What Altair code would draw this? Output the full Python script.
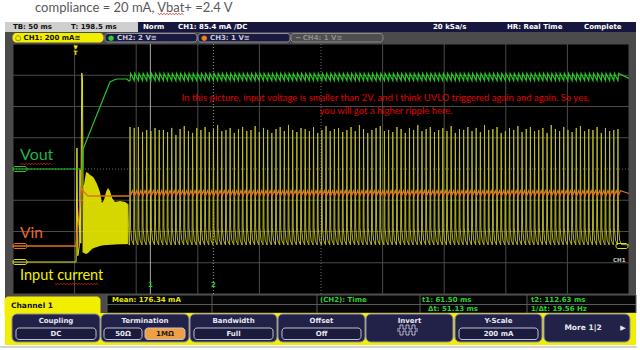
import altair as alt
import pandas as pd

# ---------------- page / screen geometry ----------------
W, H = 640, 350
GRID_X0, GRID_X1 = 13, 629
GRID_Y0, GRID_Y1 = 44, 294

# ---------------- oscilloscope settings ----------------
TIME_PER_DIV = 50.0      # ms / div
T_LEFT = -50.0           # ms at left edge (trigger at 0 ms)
N_HDIV, N_VDIV = 10, 8
CH_SCALE = {"CH1": 200.0, "CH2": 2.0, "CH3": 1.0}       # mA/div, V/div, V/div
CH_OFFSET = {"CH1": -2.976, "CH2": 0.0, "CH3": -2.464}  # div of channel ground
T_CURSOR1, T_CURSOR2 = 61.50, 112.63

T_RIGHT = T_LEFT + N_HDIV * TIME_PER_DIV
D_TOP, D_BOT = N_VDIV / 2, -N_VDIV / 2
px_ms = (GRID_X1 - GRID_X0) / (T_RIGHT - T_LEFT)
px_div = (GRID_Y1 - GRID_Y0) / (D_TOP - D_BOT)
T_DOM = [T_LEFT - GRID_X0 / px_ms, T_RIGHT + (W - GRID_X1) / px_ms]
D_DOM = [D_BOT - (H - GRID_Y1) / px_div, D_TOP + GRID_Y0 / px_div]

XS_T = alt.Scale(domain=T_DOM, nice=False, zero=False)
YS_T = alt.Scale(domain=D_DOM, nice=False, zero=False)
XS_P = alt.Scale(domain=[0, W], nice=False, zero=False)
YS_P = alt.Scale(domain=[0, H], reverse=True, nice=False, zero=False)

# ---------------- trace data ----------------
# Vout (CH2, V)
vout_t = [-50, 6.8, 6.9, 28.7, 32.0, 34.4, 42.5, 44.2]
vout_v = [0.0, 0.0, 1.28, 5.57, 5.70, 5.76, 5.76, 5.63]
# Vin (CH3, V)
vin_t = [-50, 1.1, 3.6, 5.2, 7.6, 10.9, 43.3]
vin_v = [0.0, 0.0, 0.99, 1.86, 1.73, 1.60, 1.60]
# input current (CH1, mA) start-up spikes
cur_t = [-50, 1.2, 1.9, 2.6, 3.8, 4.4, 5.0, 5.8, 6.4, 7.0, 7.6]
cur_v = [0, 0, 730, 40, 100, 590, 120, 1210, 1180, 60, 493]
# start-up burst envelope (mA)
burst_t = [7.6, 9.3, 10.9, 12.5, 14.1, 15.7, 18.2, 20.6, 22.2, 23.9, 25.5,
           27.1, 28.7, 30.4, 32.8, 36.9, 40.9, 43.3]
burst_hi = [493, 576, 570, 557, 550, 538, 499, 448, 378, 397, 448,
            474, 454, 410, 384, 390, 384, 371]
burst_lo = [58, 51, 58, 70, 83, 90, 96, 102, 105, 107, 109,
            109, 110, 111, 112, 113, 114, 115]
# periodic pulses after the burst
PULSE_T0, PULSE_PERIOD = 45.0, 3.385
pulse_peak = [864, 858, 864, 832, 845, 838, 858, 845, 845, 832, 858, 813,
              851, 870, 838, 826, 858, 845, 864, 832, 851, 877, 838, 845,
              858, 826, 851, 864, 838, 845, 870, 832, 858, 845, 826, 851,
              864, 838, 877, 845, 832, 858, 851, 838, 864, 826, 845, 870,
              838, 851, 858, 832, 845, 864, 838, 877, 851, 826, 845, 858,
              870, 838, 845, 832, 864, 851, 826, 858, 845, 877, 838, 851,
              864, 832, 845, 858, 838, 870, 826, 851, 845, 864, 838, 858,
              832, 877, 845, 851, 864, 826, 838, 858, 845, 870, 832, 851,
              864, 838, 845, 858, 826, 877, 851, 838, 864, 845, 832, 858,
              870, 838, 851, 845, 864, 826, 858, 838, 845, 851]
pulse_dt = [-0.4, 0.0, 0.4, 1.4, 2.8]
pulse_lvl = [109, None, 220, 140, 112]
vout_rip_dt, vout_rip_v = [0.0, 0.5], [5.66, 6.12]
vin_rip_dt, vin_rip_v = [0.3, 2.0], [1.61, 1.77]

pulse_times = [PULSE_T0 + k * PULSE_PERIOD for k in range(len(pulse_peak))]

COL_CUR, COL_PULSE, COL_VIN, COL_VOUT = "#dede1e", "#c4c42c", "#e2711e", "#28c428"


def to_div(ch, v):
    return v / CH_SCALE[ch] + CH_OFFSET[ch]


rows = []


def add(ch, seg, ts, vs, color, width):
    for i, (t, v) in enumerate(zip(ts, vs)):
        rows.append(dict(t=t, d=to_div(ch, v), seg=seg, i=i, c=color, w=width))


cur2_t, cur2_v = [43.3, 44.2], [371, 109]
for ti, pk in zip(pulse_times, pulse_peak):
    for dt, lv in zip(pulse_dt, pulse_lvl):
        cur2_t.append(ti + dt)
        cur2_v.append(pk if lv is None else lv)
cur2_t.append(T_RIGHT); cur2_v.append(109)

vout2_t, vout2_v = list(vout_t), list(vout_v)
vin2_t, vin2_v = list(vin_t), list(vin_v)
for ti in pulse_times:
    for dt, lv in zip(vout_rip_dt, vout_rip_v):
        vout2_t.append(ti + dt); vout2_v.append(lv)
    for dt, lv in zip(vin_rip_dt, vin_rip_v):
        vin2_t.append(ti + dt); vin2_v.append(lv)
vout2_t.append(T_RIGHT); vout2_v.append(5.8)
vin2_t.append(T_RIGHT); vin2_v.append(1.68)

add("CH1", "cur_a", cur_t, cur_v, COL_CUR, 1.0)
add("CH1", "cur_b", cur2_t, cur2_v, COL_PULSE, 0.9)
add("CH3", "vin", vin2_t, vin2_v, COL_VIN, 1.3)
add("CH2", "vout", vout2_t, vout2_v, COL_VOUT, 1.2)
traces = pd.DataFrame(rows)

burst = pd.DataFrame({
    "t": burst_t,
    "hi": [to_div("CH1", v) for v in burst_hi],
    "lo": [to_div("CH1", v) for v in burst_lo],
})

# ---------------- grid ----------------
grid_rows = []
for k in range(N_HDIV + 1):
    t = T_LEFT + k * TIME_PER_DIV
    grid_rows.append(dict(x=t, x2=t, y=D_BOT, y2=D_TOP, center=(k == N_HDIV // 2)))
for k in range(N_VDIV + 1):
    d = D_BOT + k
    grid_rows.append(dict(x=T_LEFT, x2=T_RIGHT, y=d, y2=d, center=(k == N_VDIV // 2)))
grid = pd.DataFrame(grid_rows)

cursors = pd.DataFrame({"t": [T_CURSOR1, T_CURSOR2], "lab": ["1", "2"],
                        "y": [D_BOT, D_BOT], "y2": [D_TOP, D_TOP],
                        "ly": [-3.72, -3.72]})

# ---------------- screen chrome (page pixels) ----------------
rects = pd.DataFrame([
    (5, 636, 22, 313, "#4b4b4b", "transparent"),
    (5, 138, 22, 32, "#cfcfcf", "transparent"),
    (138, 636, 22, 32, "#16163e", "transparent"),
    (GRID_X0, GRID_X1, GRID_Y0, GRID_Y1, "#000000", "transparent"),
    (107, 636, 295, 313, "#050505", "#5a5a5a"),
    (5, 636, 313, 345, "#f2ee00", "transparent"),
    (0, 637, 346, 348, "#d4d4d4", "transparent"),
], columns=["x1", "x2", "y1", "y2", "fill", "stroke"])

tabs = pd.DataFrame([
    (5, 100, 297, 318, "#f2ee00", "#f2ee00"),
    (13, 103, 33.5, 42, "#f2ee00", "#f2ee00"),
    (105, 197, 33.5, 42, "#1a1a40", "#9090a0"),
    (198, 290, 33.5, 42, "#1a1a40", "#9090a0"),
    (291, 383, 33.5, 42, "#4e4e4e", "#8a8a8a"),
], columns=["x1", "x2", "y1", "y2", "fill", "stroke"])

btn_x1 = [12, 101, 190, 278, 366, 455, 544]
btn_x2 = [100, 189, 277, 365, 453, 542, 630]
btn_title = ["Coupling", "Termination", "Bandwidth", "Offset", "Invert", "Y-Scale", ""]
buttons = pd.DataFrame({"x1": btn_x1, "x2": btn_x2, "y1": 314, "y2": 342,
                        "fill": "#222248", "stroke": "#8c8ca8"})

vbox = pd.DataFrame([
    (16, 96, "DC", "#1b1b3e", "#e8e8f0"),
    (104, 142, "50Ω", "#1b1b3e", "#e8e8f0"),
    (145, 185, "1MΩ", "#f0a040", "#202020"),
    (194, 273, "Full", "#1b1b3e", "#e8e8f0"),
    (282, 361, "Off", "#1b1b3e", "#e8e8f0"),
    (459, 538, "200 mA", "#1b1b3e", "#e8e8f0"),
], columns=["x1", "x2", "label", "fill", "tc"])
vbox["y1"], vbox["y2"], vbox["stroke"] = 328, 339.5, "#c0c0d0"
vbox["x"], vbox["y"], vbox["s"] = (vbox.x1 + vbox.x2) / 2, 334, 7

markers = pd.DataFrame([
    (13, 27, 166.5, 171.5, "#000000", COL_VOUT),
    (13, 27, 243.5, 248.5, "#000000", COL_VIN),
    (13, 27, 259.5, 264.5, "#000000", COL_CUR),
    (616, 628, 243.5, 248.5, "#000000", COL_CUR),
], columns=["x1", "x2", "y1", "y2", "fill", "stroke"])

meas_rules = pd.DataFrame([
    (212, 212, 295, 313), (317, 317, 295, 313), (420, 420, 295, 313),
    (527, 527, 295, 313), (107, 636, 304.5, 304.5),
], columns=["x1", "x2", "y1", "y2"])

GREEN_TXT = "#2ed02e"
ui_left = pd.DataFrame([
    ("TB: 50 ms", 13, 27, "#111111", 7),
    ("T: 198.5 ms", 71, 27, "#111111", 7),
    ("Norm", 143, 27, "#ffffff", 7),
    ("CH1: 85.4 mA /DC", 178, 27, "#ffffff", 7),
    ("20 kSa/s", 433, 27, "#ffffff", 7),
    ("HR: Real Time", 507, 27, "#ffffff", 7),
    ("Complete", 584, 27, "#ffffff", 7),
    ("○ CH1: 200 mA≅", 15, 38, "#111111", 7),
    ("●", 108, 38, "#30d030", 7),
    ("CH2: 2 V≅", 117, 38, "#c8c8d8", 7),
    ("●", 201, 38, "#f08020", 7),
    ("CH3: 1 V≅", 210, 38, "#c8c8d8", 7),
    ("━ CH4: 1 V≅", 296, 38, "#8c8c8c", 7),
    ("Mean: 176.34 mA", 112, 300, "#e8e800", 7),
    ("(CH2): Time", 320, 300, GREEN_TXT, 7),
    ("t1: 61.50 ms", 422, 300, GREEN_TXT, 7),
    ("Δt: 51.13 ms", 428, 309, GREEN_TXT, 7),
    ("t2: 112.63 ms", 531, 300, GREEN_TXT, 7),
    ("1/Δt: 19.56 Hz", 531, 309, GREEN_TXT, 7),
    ("Channel 1", 11, 306, "#111111", 7.5),
    ("CH1", 613, 260, "#c8c8c8", 5.5),
], columns=["label", "x", "y", "c", "s"])

ui_center = pd.DataFrame(
    [(t, (a + b) / 2, 321, "#e8e8f0", 7) for t, a, b in zip(btn_title, btn_x1, btn_x2) if t]
    + [("More 1|2", 583, 328, "#e8e8f0", 7.5), ("▶", 623, 328, "#e8e8f0", 7),
       ("▼", 75.5, 46.5, "#f2ee00", 5.5), ("T", 75.5, 53, "#f2ee00", 6)],
    columns=["label", "x", "y", "c", "s"])

notes_left = pd.DataFrame([
    ("compliance = 20 mA, Vbat+ =2.4 V", 35, 12, "#595959", 13),
    ("Vout", 20, 160, "#22b04a", 16),
    ("Vin", 20, 238, "#ec6a2a", 15.5),
    ("Input current", 20, 280, "#f0f000", 14.5),
], columns=["label", "x", "y", "c", "s"])

notes_center = pd.DataFrame([
    ("In this picture, input voltage is smaller than 2V, and I think UVLO triggered again and again. So yes,",
     385.5, 101, "#e00000", 9.5),
    ("you will got a higher ripple here.", 386, 114, "#e00000", 9.5),
], columns=["label", "x", "y", "c", "s"])

# red spell-check squiggles and the Invert icon (page pixels)
squiggle_spans = [("vbat", 158, 184, 14), ("vout", 20, 52, 164), ("current", 55, 99, 284)]
sq_rows = []
for name, a, b, yb in squiggle_spans:
    k, x = 0, a
    while x <= b:
        sq_rows.append(dict(g=name, x=x, y=yb + (0.8 if k % 2 else -0.8), i=k))
        k += 1
        x += 1.5
squig = pd.DataFrame(sq_rows)

icon_x = [397, 400, 403, 406, 409, 412, 415, 418]
icon_top = [329, 325, 329, 325, 329, 325, 329, 329]
icon_bot = [331, 335, 331, 335, 331, 335, 331, 331]
icon = pd.DataFrame(
    [dict(g="a", x=x, y=y, i=i) for i, (x, y) in enumerate(zip(icon_x, icon_top))]
    + [dict(g="b", x=x, y=y, i=i) for i, (x, y) in enumerate(zip(icon_x, icon_bot))])


# ---------------- layers ----------------
def px_rect(df, radius=0):
    return alt.Chart(df).mark_rect(cornerRadius=radius, strokeWidth=1).encode(
        x=alt.X("x1:Q", scale=XS_P, axis=None), x2="x2:Q",
        y=alt.Y("y1:Q", scale=YS_P, axis=None), y2="y2:Q",
        fill=alt.Fill("fill:N", scale=None), stroke=alt.Stroke("stroke:N", scale=None))


def px_text(df, font, weight, align, baseline="middle"):
    return alt.Chart(df).mark_text(font=font, fontWeight=weight, align=align,
                                   baseline=baseline).encode(
        x=alt.X("x:Q", scale=XS_P, axis=None), y=alt.Y("y:Q", scale=YS_P, axis=None),
        text="label:N", color=alt.Color("c:N", scale=None), size=alt.Size("s:Q", scale=None))


UI_FONT = "DejaVu Sans"
NOTE_FONT = "Lato"

layers = [
    px_rect(rects),
    px_rect(tabs, 3),
    px_rect(buttons, 5),
    px_rect(vbox, 3),
    alt.Chart(meas_rules).mark_rule(color="#5a5a5a", strokeWidth=1).encode(
        x=alt.X("x1:Q", scale=XS_P, axis=None), x2="x2:Q",
        y=alt.Y("y1:Q", scale=YS_P, axis=None), y2="y2:Q"),
    # grid
    alt.Chart(grid).transform_filter("!datum.center").mark_rule(
        color="#4a4a4a", strokeWidth=1).encode(
        x=alt.X("x:Q", scale=XS_T, axis=None), x2="x2:Q",
        y=alt.Y("y:Q", scale=YS_T, axis=None), y2="y2:Q"),
    alt.Chart(grid).transform_filter("datum.center").mark_rule(
        color="#6e6e6e", strokeWidth=1, strokeDash=[1, 2]).encode(
        x=alt.X("x:Q", scale=XS_T, axis=None), x2="x2:Q",
        y=alt.Y("y:Q", scale=YS_T, axis=None), y2="y2:Q"),
    # cursors
    alt.Chart(cursors.iloc[[0]]).mark_rule(color="#a8a8a8", strokeWidth=1).encode(
        x=alt.X("t:Q", scale=XS_T, axis=None),
        y=alt.Y("y:Q", scale=YS_T, axis=None), y2="y2:Q"),
    alt.Chart(cursors.iloc[[1]]).mark_rule(color="#9a9a9a", strokeWidth=1,
                                           strokeDash=[1, 2]).encode(
        x=alt.X("t:Q", scale=XS_T, axis=None),
        y=alt.Y("y:Q", scale=YS_T, axis=None), y2="y2:Q"),
    alt.Chart(cursors).mark_text(font=UI_FONT, fontWeight="bold", fontSize=7,
                                 color=GREEN_TXT).encode(
        x=alt.X("t:Q", scale=XS_T, axis=None),
        y=alt.Y("ly:Q", scale=YS_T, axis=None), text="lab:N"),
    # traces
    alt.Chart(burst).mark_area(color="#e2e200", opacity=0.95).encode(
        x=alt.X("t:Q", scale=XS_T, axis=None),
        y=alt.Y("hi:Q", scale=YS_T, axis=None), y2="lo:Q"),
    alt.Chart(traces).mark_line(interpolate="linear").encode(
        x=alt.X("t:Q", scale=XS_T, axis=None),
        y=alt.Y("d:Q", scale=YS_T, axis=None),
        detail="seg:N", order="i:Q",
        color=alt.Color("c:N", scale=None), size=alt.Size("w:Q", scale=None)),
    alt.Chart(markers).mark_rect(cornerRadius=2, strokeWidth=1, fillOpacity=0).encode(
        x=alt.X("x1:Q", scale=XS_P, axis=None), x2="x2:Q",
        y=alt.Y("y1:Q", scale=YS_P, axis=None), y2="y2:Q",
        stroke=alt.Stroke("stroke:N", scale=None)),
    # texts
    px_text(ui_left, UI_FONT, "bold", "left"),
    px_text(ui_center, UI_FONT, "bold", "center"),
    alt.Chart(vbox).mark_text(font=UI_FONT, fontWeight="bold", align="center",
                              baseline="middle").encode(
        x=alt.X("x:Q", scale=XS_P, axis=None), y=alt.Y("y:Q", scale=YS_P, axis=None),
        text="label:N", color=alt.Color("tc:N", scale=None), size=alt.Size("s:Q", scale=None)),
    px_text(notes_left, NOTE_FONT, "normal", "left", "alphabetic"),
    px_text(notes_center, NOTE_FONT, "normal", "center", "alphabetic"),
    alt.Chart(squig).mark_line(color="#e02020", strokeWidth=0.8).encode(
        x=alt.X("x:Q", scale=XS_P, axis=None), y=alt.Y("y:Q", scale=YS_P, axis=None),
        detail="g:N", order="i:Q"),
    alt.Chart(icon).mark_line(color="#d8d8e8", strokeWidth=0.8,
                              interpolate="step-after").encode(
        x=alt.X("x:Q", scale=XS_P, axis=None), y=alt.Y("y:Q", scale=YS_P, axis=None),
        detail="g:N", order="i:Q"),
]

chart = alt.layer(*layers).resolve_scale(x="independent", y="independent").properties(
    width=W, height=H, padding=0, autosize=alt.AutoSizeParams(type="none"),
    background="#ffffff",
).configure_view(stroke=None)

chart.save("out.html", embed_options={"renderer": "svg", "actions": False})
